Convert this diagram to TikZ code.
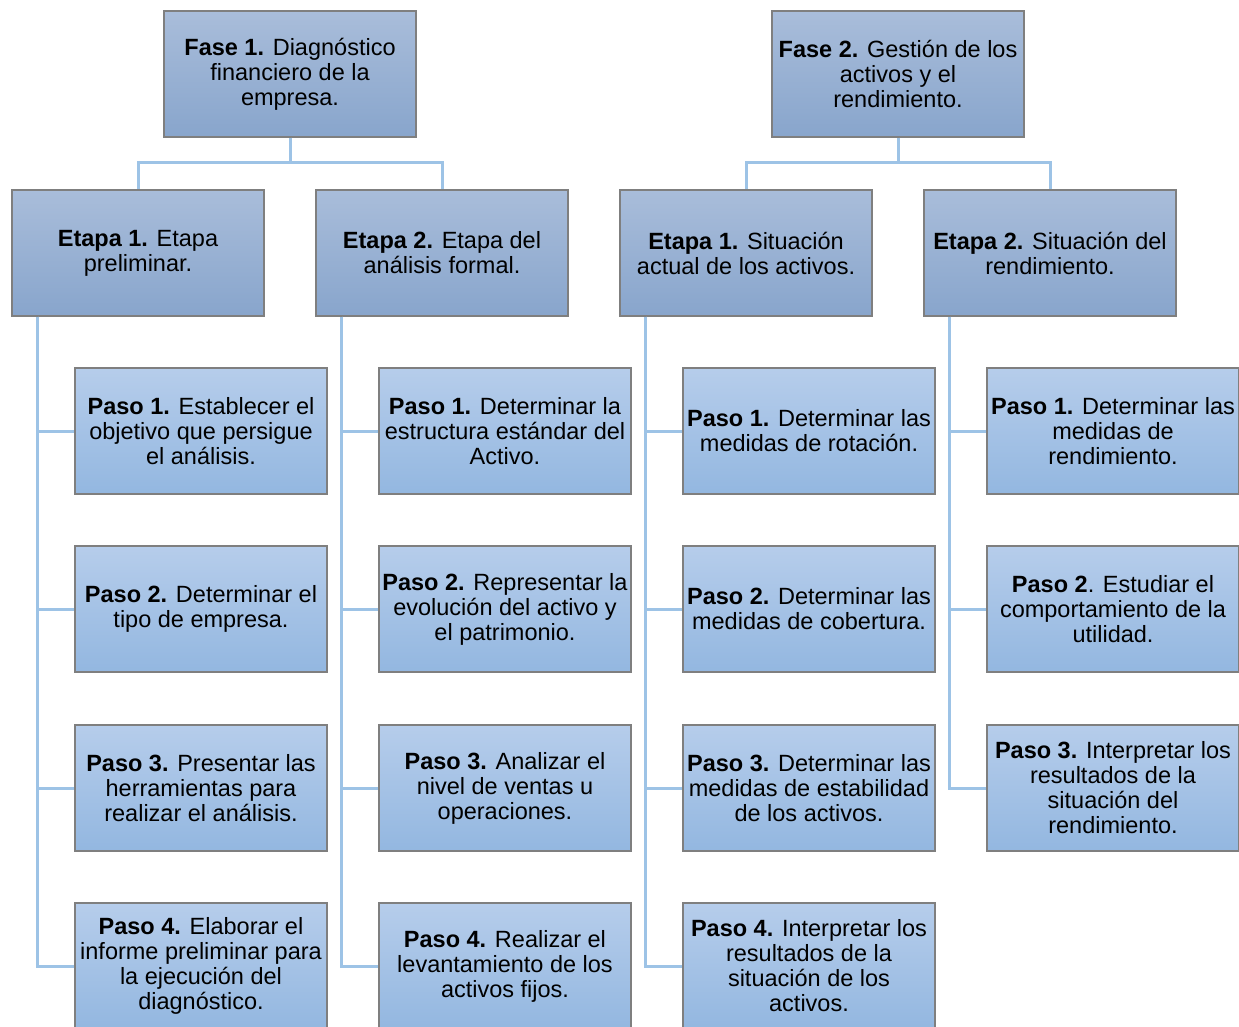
\documentclass[tikz,border=0pt]{standalone}
\usepackage{fontspec}
\setmainfont{Liberation Sans}
\definecolor{linec}{HTML}{9DC3E6}
\definecolor{bordc}{HTML}{7F7F7F}
\definecolor{ftop}{HTML}{A9BDDA}
\definecolor{fbot}{HTML}{88A5CC}
\definecolor{ptop}{HTML}{B6CDEB}
\definecolor{pbot}{HTML}{93B7E0}
\begin{document}
\begin{tikzpicture}[x=1pt,y=-1pt,
  box/.style={draw=bordc,line width=1.2pt,minimum width=252pt,minimum height=126pt,
    inner sep=0pt,align=center,font=\fontsize{23.5}{25}\selectfont,shading=axis},
  upbox/.style={box,top color=ftop,bottom color=fbot},
  pasobox/.style={box,top color=ptop,bottom color=pbot},
  conn/.style={draw=linec,line width=3pt}]
\useasboundingbox (0,0) rectangle (1239,1026);
\clip (0,0) rectangle (1239,1026);
% Fases
\node[upbox] (f1) at (290,74) {\textbf{Fase 1.} Diagnóstico\\financiero de la\\empresa.};
\node[upbox] (f2) at (898,74) {\textbf{Fase 2.} Gestión de los\\activos y el\\rendimiento.};
% Etapas
\node[upbox] (e11) at (138,253) {\textbf{Etapa 1.} Etapa\\preliminar.};
\node[upbox] (e12) at (442,253) {\textbf{Etapa 2.} Etapa del\\análisis formal.};
\node[upbox] (e21) at (746,253) {\textbf{Etapa 1.} Situación\\actual de los activos.};
\node[upbox] (e22) at (1050,253) {\textbf{Etapa 2.} Situación del\\rendimiento.};
% Column 1
\node[pasobox] (a1) at (201,431) {\textbf{Paso 1.} Establecer el\\objetivo que persigue\\el análisis.};
\node[pasobox] (a2) at (201,609) {\textbf{Paso 2.} Determinar el\\tipo de empresa.};
\node[pasobox] (a3) at (201,788) {\textbf{Paso 3.} Presentar las\\herramientas para\\realizar el análisis.};
\node[pasobox] (a4) at (201,966) {\textbf{Paso 4.} Elaborar el\\informe preliminar para\\la ejecución del\\diagnóstico.};
% Column 2
\node[pasobox] (b1) at (505,431) {\textbf{Paso 1.} Determinar la\\estructura estándar del\\Activo.};
\node[pasobox] (b2) at (505,609) {\textbf{Paso 2.} Representar la\\evolución del activo y\\el patrimonio.};
\node[pasobox] (b3) at (505,788) {\textbf{Paso 3.} Analizar el\\nivel de ventas u\\operaciones.};
\node[pasobox] (b4) at (505,966) {\textbf{Paso 4.} Realizar el\\levantamiento de los\\activos fijos.};
% Column 3
\node[pasobox] (c1) at (809,431) {\textbf{Paso 1.} Determinar las\\medidas de rotación.};
\node[pasobox] (c2) at (809,609) {\textbf{Paso 2.} Determinar las\\medidas de cobertura.};
\node[pasobox] (c3) at (809,788) {\textbf{Paso 3.} Determinar las\\medidas de estabilidad\\de los activos.};
\node[pasobox] (c4) at (809,966) {\textbf{Paso 4.} Interpretar los\\resultados de la\\situación de los\\activos.};
% Column 4
\node[pasobox] (d1) at (1113,431) {\textbf{Paso 1.} Determinar las\\medidas de\\rendimiento.};
\node[pasobox] (d2) at (1113,609) {\textbf{Paso 2}. Estudiar el\\comportamiento de la\\utilidad.};
\node[pasobox] (d3) at (1113,788) {\textbf{Paso 3.} Interpretar los\\resultados de la\\situación del\\rendimiento.};
% Connectors fase -> etapa
\draw[conn] (f1.south) -- ++(0,25) -| (e11.north);
\draw[conn] (f1.south) -- ++(0,25) -| (e12.north);
\draw[conn] (f2.south) -- ++(0,25) -| (e21.north);
\draw[conn] (f2.south) -- ++(0,25) -| (e22.north);
% Connectors etapa -> pasos
\foreach \e/\p in {e11/a1,e11/a2,e11/a3,e11/a4,e12/b1,e12/b2,e12/b3,e12/b4,e21/c1,e21/c2,e21/c3,e21/c4,e22/d1,e22/d2,e22/d3}{
  \draw[conn] ([xshift=26pt]\e.south west) |- (\p.west);
}
\end{tikzpicture}
\end{document}
